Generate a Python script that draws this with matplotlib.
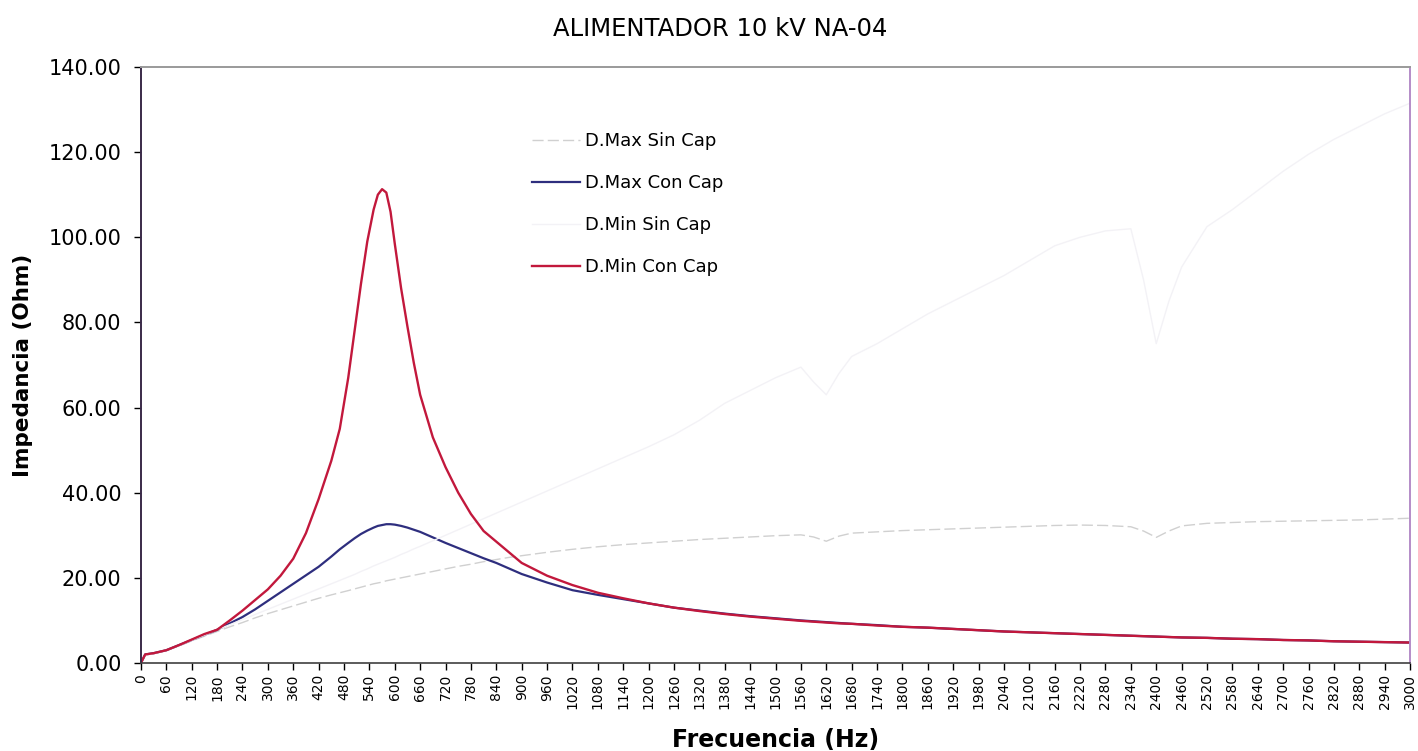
import matplotlib
matplotlib.use("Agg")
import matplotlib.pyplot as plt
from matplotlib.ticker import FormatStrFormatter

plt.rcParams['font.family'] = ['DejaVu Sans']

# Frequency grid (Hz)
freq = [0, 10, 30, 60, 90, 120, 150, 180, 210, 240, 270, 300, 330, 360, 390,
        420, 450, 470, 490, 505, 520, 535, 550, 560, 570, 580, 590, 600, 615,
        630, 645, 660, 690, 720, 750, 780, 810, 840, 870, 900, 960, 1020, 1080,
        1140, 1200, 1260, 1320, 1380, 1440, 1500, 1560, 1590, 1620, 1650, 1680,
        1740, 1800, 1860, 1920, 1980, 2040, 2100, 2160, 2220, 2280, 2340, 2370,
        2400, 2430, 2460, 2520, 2580, 2640, 2700, 2760, 2820, 2880, 2940, 3000]

# Impedance (Ohm) per case
dmax_sin_cap = [0, 1.8, 2.2, 3.0, 4.0, 5.2, 6.3, 7.4, 8.5, 9.5, 10.6, 11.6, 12.5,
                13.4, 14.3, 15.2, 16.0, 16.5, 17.0, 17.4, 17.8, 18.2, 18.6, 18.8,
                19.0, 19.3, 19.5, 19.7, 20.0, 20.3, 20.6, 20.9, 21.5, 22.1, 22.7,
                23.2, 23.8, 24.3, 24.8, 25.2, 26.0, 26.7, 27.3, 27.8, 28.2, 28.6,
                29.0, 29.3, 29.6, 29.9, 30.1, 29.6, 28.6, 29.8, 30.5, 30.8, 31.1,
                31.3, 31.5, 31.7, 31.9, 32.1, 32.3, 32.4, 32.3, 32.0, 31.0, 29.5,
                31.0, 32.2, 32.8, 33.0, 33.2, 33.3, 33.4, 33.5, 33.6, 33.8, 34.0]

dmax_con_cap = [0, 2.0, 2.3, 3.0, 4.2, 5.4, 6.6, 7.8, 9.3, 10.8, 12.6, 14.6, 16.6,
                18.6, 20.6, 22.6, 25.0, 26.7, 28.2, 29.3, 30.3, 31.1, 31.8, 32.2,
                32.4, 32.6, 32.6, 32.5, 32.2, 31.8, 31.3, 30.8, 29.5, 28.2, 27.0,
                25.8, 24.6, 23.5, 22.2, 20.9, 18.9, 17.1, 16.0, 15.0, 14.0, 13.0,
                12.3, 11.6, 11.0, 10.5, 10.0, 9.8, 9.6, 9.4, 9.2, 8.9, 8.5, 8.3,
                8.0, 7.7, 7.4, 7.2, 7.0, 6.8, 6.6, 6.4, 6.3, 6.2, 6.1, 6.0, 5.9,
                5.7, 5.6, 5.4, 5.3, 5.1, 5.0, 4.9, 4.8]

dmin_sin_cap = [0, 1.8, 2.2, 3.0, 4.1, 5.3, 6.5, 7.8, 9.0, 10.2, 11.4, 12.6, 13.8,
                15.0, 16.2, 17.4, 18.6, 19.4, 20.2, 20.8, 21.5, 22.1, 22.8, 23.2,
                23.6, 24.0, 24.4, 24.8, 25.5, 26.1, 26.8, 27.4, 28.7, 30.0, 31.3,
                32.6, 33.9, 35.2, 36.5, 37.8, 40.4, 43.0, 45.6, 48.2, 50.8, 53.6,
                57.0, 61.0, 64.0, 67.0, 69.5, 66.0, 63.0, 68.0, 72.0, 75.0, 78.5,
                82.0, 85.0, 88.0, 91.0, 94.5, 98.0, 100.0, 101.5, 102.0, 90.0,
                75.0, 85.0, 93.0, 102.5, 106.5, 111.0, 115.5, 119.5, 123.0, 126.0,
                129.0, 131.5]

dmin_con_cap = [0, 2.0, 2.3, 3.0, 4.2, 5.5, 6.8, 7.8, 10.0, 12.3, 14.8, 17.3, 20.5,
                24.5, 30.5, 38.5, 47.5, 55.0, 67.0, 78.0, 89.0, 99.0, 106.5, 110.0,
                111.3, 110.5, 106.0, 98.5, 88.0, 79.0, 70.5, 63.0, 53.0, 46.0,
                40.0, 35.0, 31.0, 28.5, 26.0, 23.5, 20.5, 18.3, 16.5, 15.2, 14.0,
                13.0, 12.2, 11.5, 10.9, 10.4, 9.9, 9.7, 9.5, 9.3, 9.2, 8.8, 8.5,
                8.3, 8.0, 7.7, 7.4, 7.2, 7.0, 6.8, 6.6, 6.4, 6.3, 6.2, 6.1, 6.0,
                5.9, 5.7, 5.6, 5.4, 5.3, 5.1, 5.0, 4.9, 4.8]

labels = ['D.Max Sin Cap', 'D.Max Con Cap', 'D.Min Sin Cap', 'D.Min Con Cap']

fig = plt.figure(figsize=(14.18, 7.51), dpi=100)
ax = fig.add_axes([0.0994, 0.1172, 0.8950, 0.7936])

ax.plot(freq, dmax_sin_cap, color='#d0d0d0', lw=1.0, ls=(0, (8, 3)), label=labels[0])
ax.plot(freq, dmax_con_cap, color='#2e2e7e', lw=1.6, label=labels[1])
ax.plot(freq, dmin_sin_cap, color='#f3f2f6', lw=1.0, label=labels[2])
ax.plot(freq, dmin_con_cap, color='#c2183c', lw=1.7, label=labels[3])

ax.set_xlim(0, 3000)
ax.set_ylim(0, 140)
ax.set_xticks(range(0, 3001, 60))
ax.set_yticks(range(0, 141, 20))
ax.yaxis.set_major_formatter(FormatStrFormatter('%.2f'))
ax.tick_params(axis='x', labelrotation=90, labelsize=10, length=5, width=1, pad=3)
ax.tick_params(axis='y', labelsize=15, length=5, width=1, pad=9)

ax.spines['left'].set_color('#3a2a48')
ax.spines['left'].set_linewidth(1.4)
ax.spines['bottom'].set_color('#404040')
ax.spines['bottom'].set_linewidth(1.2)
ax.spines['top'].set_color('#9a9a9a')
ax.spines['top'].set_linewidth(1.4)
ax.spines['right'].set_color('#b48cc8')
ax.spines['right'].set_linewidth(1.4)

ax.set_xlabel('Frecuencia (Hz)', fontsize=17, fontweight='bold', labelpad=13)
ax.set_ylabel('Impedancia (Ohm)', fontsize=15.5, fontweight='bold', labelpad=11)
fig.text(0.508, 0.962, 'ALIMENTADOR 10 kV NA-04', ha='center', va='center', fontsize=17.5)

ax.legend(loc='upper left', bbox_to_anchor=(0.295, 0.918), frameon=False,
          fontsize=13, labelspacing=1.33, handlelength=2.66, handletextpad=0.3)

fig.savefig('out.png', dpi=100)
